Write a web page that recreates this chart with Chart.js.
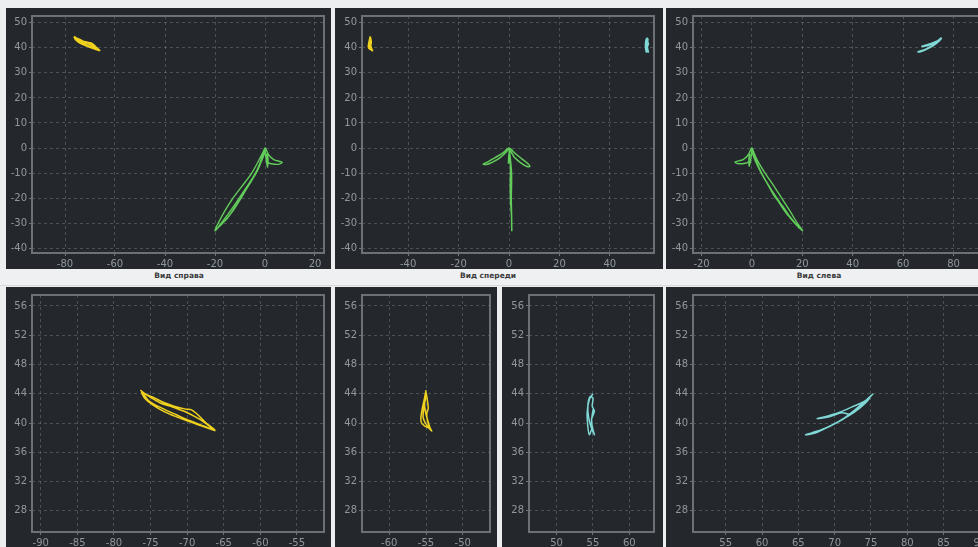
<!DOCTYPE html>
<html><head><meta charset="utf-8">
<script src="https://cdn.jsdelivr.net/npm/chart.js@4"></script>
<style>
html,body{margin:0;padding:0;}
body{width:978px;height:547px;overflow:hidden;background:#eceef0;position:relative;font-family:"DejaVu Sans",sans-serif;}
canvas{position:absolute;display:block;background:#24282c;}
.bar{position:absolute;left:0;top:269px;width:978px;height:16px;background:#eef0f2;border-bottom:1px solid #d6d9dc;}
.lbl{position:absolute;top:271px;font:bold 7.5px "DejaVu Sans",sans-serif;color:#3a3a3a;transform:translateX(-50%);white-space:nowrap;}
</style></head><body>
<div class="bar"></div>
<div class="lbl" style="left:179px">Вид справа</div>
<div class="lbl" style="left:488px">Вид спереди</div>
<div class="lbl" style="left:819px">Вид слева</div>
<script>
// ---- tick values ----
const topYTicks = [-40,-30,-20,-10,0,10,20,30,40,50];
const bottomYTicks = [28,32,36,40,44,48,52,56];
const rightViewXTicks = [-80,-60,-40,-20,0,20];
const frontViewXTicks = [-40,-20,0,20,40];
const leftViewXTicks = [-20,0,20,40,60,80];
const yellowSideXTicks = [-90,-85,-80,-75,-70,-65,-60,-55];
const yellowFrontXTicks = [-60,-55,-50];
const cyanFrontXTicks = [50,55,60];
const cyanSideXTicks = [55,60,65,70,75,80,85,90];

// ---- green trajectory (3 views) ----
const greenRightX = [0,-2.5,-5.3,-9,-12.8,-16,-18.7,-20,-18.5,-15,-12,-9.3,-6,-3,-1,0,-0.5,-2.5,-5,-8,-11,-14.5,-19,-17,-13.5,-10.5,-7.5,-4.5,-2,0,1.5,3.5,6.8,5.8,3.3,1.3,0.8,1.2,1.0,0.4,0];
const greenRightY = [0,-5,-10,-15,-20,-25,-30,-33,-31.5,-28,-23.5,-19.5,-14,-9,-4,-0.5,-3,-7.5,-12,-16.5,-21,-26,-32,-30,-26,-21.5,-16.5,-11.5,-6,0,-2.8,-4.6,-5.7,-6.4,-6.4,-5.7,-2.5,-4,-7.7,-4,0];
const greenFrontX = [0,0.6,1.0,1.0,0.9,1.0,1.1,1.0,0.6,0.5,0.6,0.3,0,-2.5,-5.5,-8.2,-10.2,-9,-6.5,-3.5,-1,0,2.5,5.2,7.4,8.3,7.2,4.8,2.2,0.3,-0.2,0.2,0];
const greenFrontY = [0,-5,-10,-15,-20,-26,-33,-27,-21,-14,-8,-3,0,-2,-3.8,-5.4,-6.4,-6.6,-5.6,-3.8,-1.5,0,-2.2,-4.4,-6.2,-7.3,-7.4,-6,-3.8,-1,-6,-5,0];
const greenLeftX = [0,2.2,5.2,8.6,11.8,15,18,20.1,18.6,15.4,12.4,9.1,6,3.2,1,0,0.5,2.4,4.8,7.6,10.6,14,18.8,17,13.6,10.6,7.6,4.6,2,0,-1.5,-3.5,-6.7,-5.6,-3.2,-1.4,-0.9,-1.2,-1.1,-0.4,0];
const greenLeftY = [0,-5,-10,-15,-20,-25,-30,-33,-31.5,-28,-23.5,-19.5,-14,-9,-4,-0.5,-3,-7.5,-12,-16.5,-21,-26,-32,-30,-26,-21.5,-16.5,-11.5,-6,0,-2.8,-4.6,-5.6,-6.2,-6.2,-5.5,-2.5,-4,-7.3,-4,0];

// ---- yellow marker ----
const yellowSideX = [-76.4,-75.6,-74.6,-73.2,-71.8,-70.2,-69.4,-68.4,-67.4,-66.2,-67.2,-68.6,-70.0,-71.6,-73.2,-74.6,-75.8,-76.2,-75.0,-73.6,-72.0,-70.4,-69.0,-67.8,-66.6,-67.8,-69.6,-71.4,-73.4,-75.2,-76.0];
const yellowSideY = [44.5,43.9,43.5,42.8,42.3,41.9,41.8,41.0,40.0,39.0,39.3,39.8,40.3,40.9,41.6,42.4,43.4,44.2,43.5,42.7,42.2,41.6,40.9,40.2,39.2,39.6,40.3,41.1,42.0,43.0,44.0];
const yellowFrontX = [-55.0,-55.2,-55.5,-55.7,-55.6,-55.2,-54.6,-54.2,-54.5,-54.8,-54.9,-54.7,-54.8,-55.0,-55.1,-55.3,-55.4,-55.1,-54.7,-54.4,-54.6,-55.0,-55.2,-55.0];
const yellowFrontY = [44.5,43.4,42.0,40.6,40.0,39.6,39.3,38.9,39.4,40.3,41.3,42.0,43.0,44.2,43.2,42.0,40.8,40.0,39.5,39.1,39.8,41.2,42.6,44.0];

// ---- cyan marker ----
const cyanFrontX = [55.0,54.5,54.2,54.3,54.5,54.9,55.2,55.0,54.8,55.2,54.9,55.0,54.6,54.3,54.4,54.7,55.1,54.8,55.0];
const cyanFrontY = [44.0,43.2,41.4,39.5,38.4,39.2,38.4,39.1,40.5,41.6,42.3,43.4,43.6,42.4,40.8,39.6,38.6,40.0,41.8];
const cyanSideX = [75.3,74.2,72.8,71.2,69.6,68.0,66.0,67.2,68.6,70.2,71.8,73.4,74.8,73.8,72.4,70.8,69.2,67.6,69.4,71.0,72.2,73.2,74.6,75.2];
const cyanSideY = [44.0,43.0,41.8,40.6,39.7,39.0,38.4,38.6,39.2,40.0,40.9,42.0,43.4,42.8,42.2,41.5,41.0,40.6,40.9,41.4,41.2,42.0,43.3,43.9];

const GREEN = '#62cc5a', YELLOW = '#f0d21e', CYAN = '#7fd8d6';

const framePlugin = {
  id: 'frame',
  afterDraw(c) {
    const a = c.chartArea, ctx = c.ctx;
    ctx.save();
    ctx.strokeStyle = '#6c7176';
    ctx.lineWidth = 2;
    ctx.strokeRect(a.left, a.top, a.right - a.left, a.bottom - a.top);
    ctx.restore();
  }
};

function axis(min, max, ticks, fit) {
  return {
    type: 'linear', min, max,
    afterBuildTicks: s => { s.ticks = ticks.map(v => ({ value: v })); },
    afterFit: fit,
    grid: { color: 'rgba(150,156,162,0.35)', tickColor: '#70757a', tickLength: 3, lineWidth: 1 },
    border: { display: false, dash: [3, 3] },
    ticks: { color: '#92979c', font: { family: 'DejaVu Sans', size: 10 }, padding: 2, maxRotation: 0, autoSkip: false }
  };
}

function panel(box, xr, yr, xt, yt, sets) {
  const cv = document.createElement('canvas');
  cv.width = box.w; cv.height = box.h;
  cv.style.left = box.x + 'px'; cv.style.top = box.y + 'px';
  document.body.appendChild(cv);
  new Chart(cv, {
    type: 'scatter',
    data: {
      datasets: sets.map(s => ({
        data: s.x.map((v, i) => ({ x: v, y: s.y[i] })),
        showLine: true, borderColor: s.c, borderWidth: s.w, pointRadius: 0, tension: 0.3, fill: false
      }))
    },
    options: {
      responsive: false, animation: false, devicePixelRatio: 1,
      layout: { padding: { top: box.pt, right: box.pr, left: 0, bottom: 0 } },
      plugins: { legend: { display: false }, tooltip: { enabled: false } },
      scales: {
        x: axis(xr[0], xr[1], xt, s => { s.height = 16; }),
        y: axis(yr[0], yr[1], yt, s => { s.width = box.yw; })
      }
    },
    plugins: [framePlugin]
  });
}

const topY = [-41.9, 52.7], botY = [25.1, 57.5];
// top row
panel({x:6, y:8, w:325, h:261, pt:7, pr:7, yw:26}, [-93.2, 23.6], topY, rightViewXTicks, topYTicks,
  [{x:greenRightX, y:greenRightY, c:GREEN, w:1.4}, {x:yellowSideX, y:yellowSideY, c:YELLOW, w:2}]);
panel({x:335, y:8, w:328, h:261, pt:7, pr:9, yw:27}, [-58.3, 57.5], topY, frontViewXTicks, topYTicks,
  [{x:greenFrontX, y:greenFrontY, c:GREEN, w:1.5}, {x:yellowFrontX, y:yellowFrontY, c:YELLOW, w:2}, {x:cyanFrontX, y:cyanFrontY, c:CYAN, w:2}]);
panel({x:666, y:8, w:324, h:261, pt:7, pr:5, yw:27}, [-23.4, 92.5], topY, leftViewXTicks, topYTicks,
  [{x:greenLeftX, y:greenLeftY, c:GREEN, w:1.4}, {x:cyanSideX, y:cyanSideY, c:CYAN, w:2}]);
// bottom row
panel({x:6, y:287, w:325, h:261, pt:8, pr:7, yw:26}, [-91.2, -51.3], botY, yellowSideXTicks, bottomYTicks,
  [{x:yellowSideX, y:yellowSideY, c:YELLOW, w:1.5}]);
panel({x:335, y:287, w:162, h:261, pt:8, pr:7, yw:27}, [-63.7, -46.3], botY, yellowFrontXTicks, bottomYTicks,
  [{x:yellowFrontX, y:yellowFrontY, c:YELLOW, w:1.5}]);
panel({x:502, y:287, w:161, h:261, pt:8, pr:9, yw:27}, [46.2, 63.4], botY, cyanFrontXTicks, bottomYTicks,
  [{x:cyanFrontX, y:cyanFrontY, c:CYAN, w:1.5}]);
panel({x:666, y:287, w:324, h:261, pt:8, pr:5, yw:27}, [50.5, 90.7], botY, cyanSideXTicks, bottomYTicks,
  [{x:cyanSideX, y:cyanSideY, c:CYAN, w:1.5}]);
</script>
</body></html>
